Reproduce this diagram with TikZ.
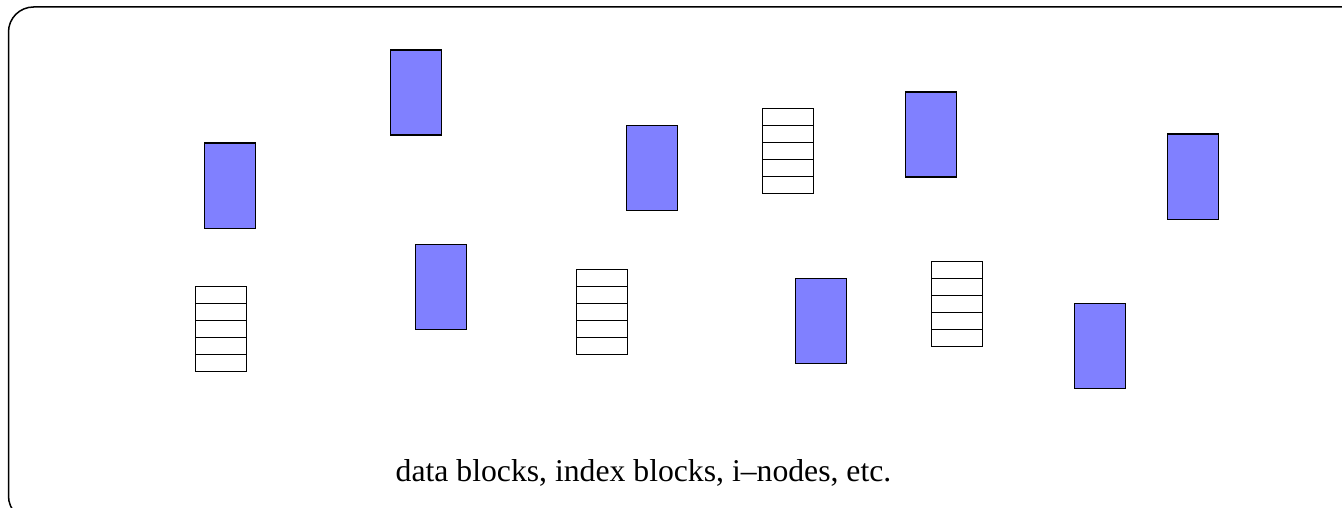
\documentclass[tikz,border=0pt]{standalone}
\usepackage{fontspec}
\setmainfont{Liberation Serif}
\definecolor{blockblue}{HTML}{8080FF}
\begin{document}
\begin{tikzpicture}[x=1pt,y=-1pt,
  datablk/.style={draw=black,fill=blockblue,line width=1.2pt,minimum width=51pt,minimum height=85pt,inner sep=0pt,anchor=north west},
  idxblk/.style={draw=black,fill=white,line width=1.2pt,minimum width=51pt,minimum height=85pt,inner sep=0pt,anchor=north west,
    path picture={\foreach \k in {1,...,4}{\draw[line width=1.2pt] ([yshift=-\k*17pt]path picture bounding box.north west) -- ([yshift=-\k*17pt]path picture bounding box.north east);}}},
  frame/.style={draw=black,line width=1.5pt,rounded corners=25pt}]
\useasboundingbox (0,0) rectangle (1342,508);
\draw[frame] (8.5,7) rectangle (1380,521);
% data blocks
\node[datablk] (d1) at (203.5,142.5) {};
\node[datablk] (d2) at (389.5,49.5) {};
\node[datablk] (d3) at (626,125) {};
\node[datablk] (d4) at (905,91.5) {};
\node[datablk] (d5) at (1167,133.5) {};
\node[datablk] (d6) at (415,243.5) {};
\node[datablk] (d7) at (795,277.5) {};
\node[datablk] (d8) at (1074,302.5) {};
% index blocks
\node[idxblk] (i1) at (195,286) {};
\node[idxblk] (i2) at (761.5,108) {};
\node[idxblk] (i3) at (576,269) {};
\node[idxblk] (i4) at (930.5,260.5) {};
% caption
\node[font=\fontsize{31.7}{36}\selectfont,anchor=base] (cap) at (643.5,481) {data blocks, index blocks, i–nodes, etc.};
\end{tikzpicture}
\end{document}
